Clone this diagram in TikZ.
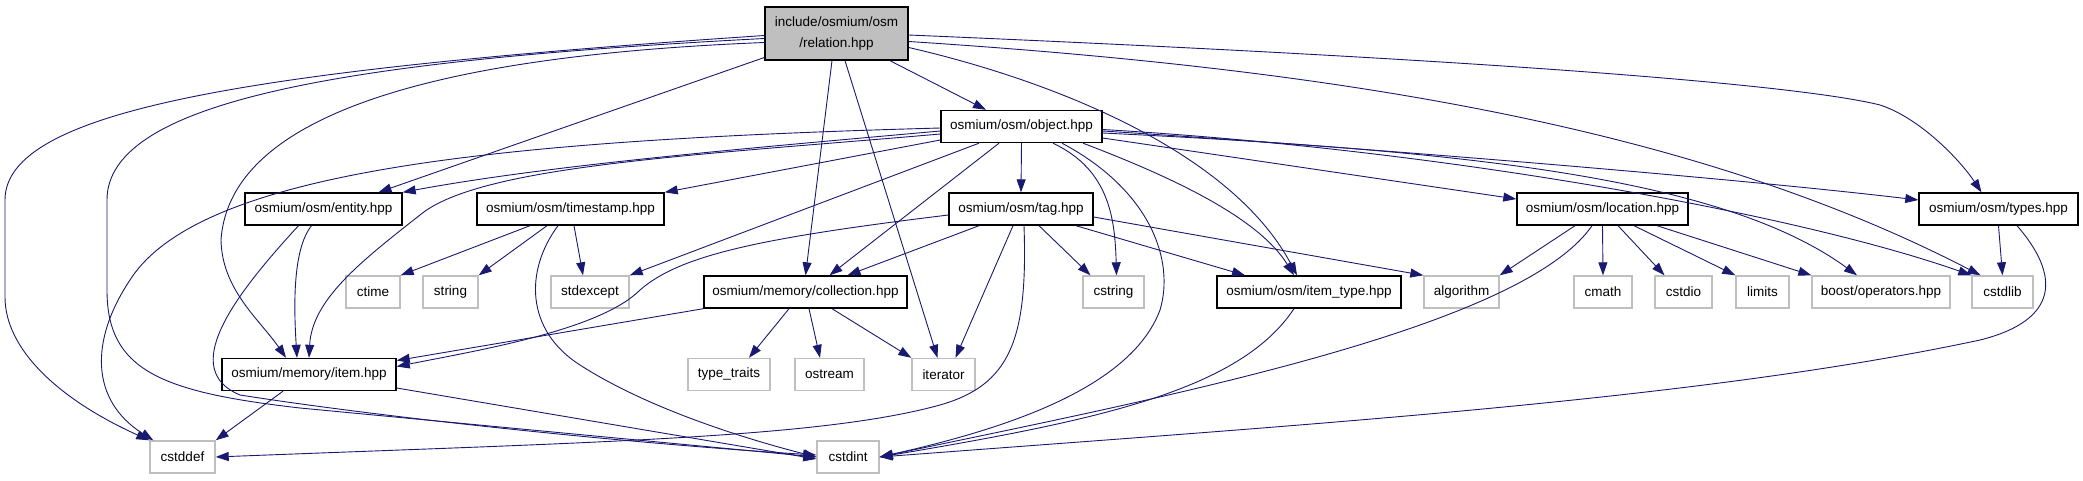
\documentclass[tikz,border=0pt]{standalone}
\usepackage{fontspec}
\setmainfont{Liberation Sans}
\usepackage{tikz}
\usetikzlibrary{arrows.meta}
\definecolor{edgeBlue}{HTML}{191970}
\definecolor{nodeGrey}{HTML}{BFBFBF}

\begin{document}
\begin{tikzpicture}[x=1pt, y=-1pt,
  every node/.style={font=\fontsize{13.5}{21}\selectfont, inner sep=2pt, minimum height=32pt},
  filebox/.style={draw=black, line width=1.4pt, fill=white},
  sysbox/.style={draw=nodeGrey, line width=1.4pt, fill=white},
  rootbox/.style={draw=black, line width=1.4pt, fill=nodeGrey},
  dep/.style={edgeBlue, line width=0.9pt, -{Triangle[length=13pt, width=9pt]}},
]
  \useasboundingbox (0,0) rectangle (2083,480);

  % headers of the project
  \node[rootbox, minimum width=143pt, minimum height=53pt, align=center] (relation) at (836.5,33.5) {include/osmium/osm\\/relation.hpp};
  \node[filebox, minimum width=161pt] (object) at (1021.5,126.5) {osmium/osm/object.hpp};
  \node[filebox, minimum width=157pt] (entity) at (323.5,209) {osmium/osm/entity.hpp};
  \node[filebox, minimum width=187pt] (timestamp) at (570.5,209) {osmium/osm/timestamp.hpp};
  \node[filebox, minimum width=144pt] (tag) at (1021,209) {osmium/osm/tag.hpp};
  \node[filebox, minimum width=171pt] (location) at (1602.5,209) {osmium/osm/location.hpp};
  \node[filebox, minimum width=159pt] (types) at (1998.5,209) {osmium/osm/types.hpp};
  \node[filebox, minimum width=203pt] (collection) at (805.5,292) {osmium/memory/collection.hpp};
  \node[filebox, minimum width=184pt] (itemtype) at (1309,292) {osmium/osm/item\_type.hpp};
  \node[filebox, minimum width=174pt] (item) at (309,374.5) {osmium/memory/item.hpp};

  % system headers
  \node[sysbox, minimum width=54pt] (ctime) at (373,292) {ctime};
  \node[sysbox, minimum width=55pt] (string) at (450.5,292) {string};
  \node[sysbox, minimum width=78pt] (stdexcept) at (590,292) {stdexcept};
  \node[sysbox, minimum width=61pt] (cstring) at (1113.5,292) {cstring};
  \node[sysbox, minimum width=75pt] (algorithm) at (1461.5,292) {algorithm};
  \node[sysbox, minimum width=58pt] (cmath) at (1603,292) {cmath};
  \node[sysbox, minimum width=57pt] (cstdio) at (1683.5,292) {cstdio};
  \node[sysbox, minimum width=53pt] (limits) at (1762.5,292) {limits};
  \node[sysbox, minimum width=138pt] (boostops) at (1881,292) {boost/operators.hpp};
  \node[sysbox, minimum width=61pt] (cstdlib) at (2002.5,292) {cstdlib};
  \node[sysbox, minimum width=82pt] (typetraits) at (729,374.5) {type\_traits};
  \node[sysbox, minimum width=69pt] (ostream) at (829.5,374.5) {ostream};
  \node[sysbox, minimum width=63pt] (iterator) at (943.5,374.5) {iterator};
  \node[sysbox, minimum width=65pt] (cstddef) at (182.5,457) {cstddef};
  \node[sysbox, minimum width=62pt] (cstdint) at (848,457) {cstdint};

  % relation.hpp includes
  \draw[dep] ([yshift=-2pt]relation.west) .. controls (250,70) and (5,110) .. (5,200) -- (5,297) .. controls (5,350) and (60,400) .. (cstddef.north west);
  \draw[dep] ([yshift=-5pt]relation.west) .. controls (350,60) and (107,100) .. (107,200) -- (107,290) .. controls (107,370) and (160,392) .. (300,408) -- (cstdint.west);
  \draw[dep] ([yshift=-9pt]relation.west) .. controls (450,55) and (230,110) .. (221,240) .. controls (222,290) and (260,320) .. ([xshift=-23pt]item.north);
  \draw[dep] ([yshift=-24pt]relation.west) -- ([xshift=55pt]entity.north);
  \draw[dep] ([xshift=-4.5pt]relation.south) -- (collection.north);
  \draw[dep] ([xshift=8.5pt]relation.south) -- ([xshift=-6pt]iterator.north);
  \draw[dep] ([xshift=53.5pt]relation.south) -- ([xshift=-35.5pt]object.north);
  \draw[dep] ([yshift=-14pt]relation.east) .. controls (1050,80) and (1230,150) .. ([xshift=-12pt]itemtype.north);
  \draw[dep] ([yshift=-8pt]relation.east) .. controls (1350,70) and (1700,130) .. ([xshift=-22pt]cstdlib.north);
  \draw[dep] ([yshift=-1.5pt]relation.east) .. controls (1500,60) and (1800,85) .. (1880,105) .. controls (1920,118) and (1960,160) .. ([xshift=-17pt]types.north);

  % object.hpp includes
  \draw[dep] (object.south) -- (tag.north);
  \draw[dep] ([yshift=-1.5pt]object.west) .. controls (500,140) and (200,170) .. (130,280) .. controls (90,340) and (90,400) .. ([xshift=4pt]cstddef.north west);
  \draw[dep] ([yshift=-4.5pt]object.west) .. controls (750,148) and (550,165) .. (entity.north east);
  \draw[dep] ([yshift=-7.5pt]object.west) .. controls (700,155) and (480,165) .. (420,215) .. controls (360,262) and (312,300) .. (item.north);
  \draw[dep] ([yshift=-13.5pt]object.west) -- (timestamp.north east);
  \draw[dep] ([xshift=-42.5pt]object.south) -- (stdexcept.north east);
  \draw[dep] ([xshift=-22.5pt]object.south) -- ([xshift=24pt]collection.north);
  \draw[dep] ([xshift=31.5pt]object.south) .. controls (1110,170) and (1115,220) .. ([xshift=3pt]cstring.north);
  \draw[dep] ([xshift=40.5pt]object.south) .. controls (1150,190) and (1175,260) .. (1160,310) .. controls (1130,390) and (1000,430) .. (cstdint.east);
  \draw[dep] ([xshift=61.5pt]object.south) .. controls (1180,180) and (1260,220) .. ([xshift=-15pt]itemtype.north);
  \draw[dep] ([yshift=-11.5pt]object.east) -- ([yshift=10pt]location.west);
  \draw[dep] ([yshift=-4.5pt]object.east) .. controls (1400,150) and (1750,180) .. ([yshift=9pt]types.west);
  \draw[dep] ([yshift=-6.5pt]object.east) .. controls (1450,150) and (1720,175) .. ([xshift=-24pt]boostops.north);
  \draw[dep] ([yshift=-3pt]object.east) .. controls (1450,150) and (1800,215) .. (cstdlib.north west);

  % tag.hpp includes
  \draw[dep] ([xshift=-42pt]tag.south) -- ([xshift=42pt]collection.north);
  \draw[dep] ([yshift=-6pt]tag.west) .. controls (760,238) and (680,255) .. (640,290) .. controls (600,330) and (480,350) .. ([yshift=8pt]item.east);
  \draw[dep] ([xshift=-8pt]tag.south) -- ([xshift=12pt]iterator.north);
  \draw[dep] ([xshift=3pt]tag.south) .. controls (1028,340) and (1010,385) .. (940,405) .. controls (820,438) and (600,442) .. (cstddef.east);
  \draw[dep] ([xshift=18pt]tag.south) -- ([xshift=-23pt]cstring.north);
  \draw[dep] ([xshift=55pt]tag.south) -- ([xshift=-64pt]itemtype.north);
  \draw[dep] ([yshift=-8pt]tag.east) -- (algorithm.north west);

  % entity, item, collection, timestamp
  \draw[dep] ([xshift=-12pt]entity.south) .. controls (292,250) and (294,310) .. ([xshift=-12pt]item.north);
  \draw[dep] ([xshift=-25pt]entity.south) .. controls (230,300) and (180,370) .. (240,395) .. controls (400,420) and (650,445) .. ([yshift=2pt]cstdint.west);
  \draw[dep] ([xshift=-26pt]item.south) -- (cstddef.north east);
  \draw[dep] ([yshift=-13.5pt]item.east) -- ([yshift=-2pt]cstdint.west);
  \draw[dep] (collection.south west) -- ([yshift=14pt]item.east);
  \draw[dep] ([xshift=-16.5pt]collection.south) -- ([xshift=20pt]typetraits.north);
  \draw[dep] ([xshift=3.5pt]collection.south) -- ([xshift=-9.5pt]ostream.north);
  \draw[dep] ([xshift=26.5pt]collection.south) -- (iterator.north west);
  \draw[dep] ([xshift=-40.5pt]timestamp.south) -- (ctime.north east);
  \draw[dep] ([xshift=-23.5pt]timestamp.south) -- (string.north east);
  \draw[dep] ([xshift=3.5pt]timestamp.south) -- ([xshift=-7pt]stdexcept.north);
  \draw[dep] ([xshift=-12.5pt]timestamp.south) .. controls (525,270) and (525,330) .. (580,365) .. controls (650,410) and (750,440) .. (cstdint.west);

  % item_type, location, types
  \draw[dep] ([xshift=-15pt]itemtype.south) .. controls (1240,390) and (1100,420) .. (cstdint.east);
  \draw[dep] ([xshift=-27.5pt]location.south) -- (algorithm.north east);
  \draw[dep] (location.south) -- (cmath.north);
  \draw[dep] ([xshift=15.5pt]location.south) -- ([xshift=-19pt]cstdio.north);
  \draw[dep] ([xshift=31.5pt]location.south) -- (limits.north west);
  \draw[dep] ([xshift=54.5pt]location.south) -- (boostops.north west);
  \draw[dep] ([xshift=-10.5pt]location.south) .. controls (1520,330) and (1150,400) .. (cstdint.east);
  \draw[dep] (types.south) -- (cstdlib.north);
  \draw[dep] ([xshift=18.5pt]types.south) .. controls (2060,275) and (2060,320) .. (1980,340) .. controls (1700,400) and (1300,425) .. (cstdint.east);
\end{tikzpicture}
\end{document}
